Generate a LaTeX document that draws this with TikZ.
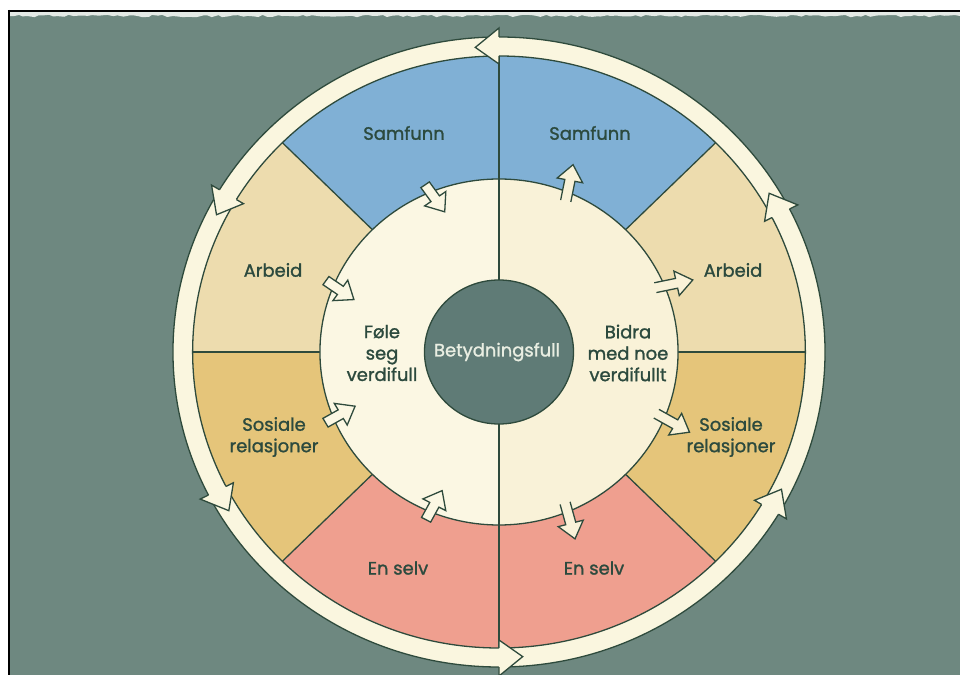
\documentclass[tikz,border=0pt]{standalone}
\usepackage{fontspec}
\setmainfont{Poppins}
\newfontfamily\lblfont{Poppins}[FakeBold=1.3]
\usepackage{tikz}
\usetikzlibrary{decorations.pathmorphing}

\definecolor{bgteal}{HTML}{6E8880}
\definecolor{tornedge}{HTML}{E4EAE6}
\definecolor{ringcream}{HTML}{FAF6DF}
\definecolor{linegreen}{HTML}{2E4A3C}
\definecolor{textgreen}{HTML}{2C4A3E}
\definecolor{samfunnblue}{HTML}{80B0D5}
\definecolor{arbeidbeige}{HTML}{EDDCAE}
\definecolor{sosialegold}{HTML}{E5C57A}
\definecolor{enselvpink}{HTML}{EF9F8F}
\definecolor{leftcream}{HTML}{FBF7E3}
\definecolor{rightcream}{HTML}{F9F2D8}
\definecolor{centerteal}{HTML}{5F7B76}
\definecolor{centertext}{HTML}{E9EEE2}

\tikzset{
  outline/.style = {draw=linegreen, line width=1.3bp},
  lbl/.style = {text=textgreen, font=\lblfont\fontsize{18}{21.5}\selectfont, align=center, inner sep=0pt},
}

\begin{document}
\begin{tikzpicture}[x=1bp, y=1bp]
 \useasboundingbox (-499,-323) rectangle (461,352);
 \fill[white] (-499,-323) rectangle (461,352);
 \fill[bgteal] (-490,-323) rectangle (461,341);
 \fill[tornedge] (-490,341) -- (461,341) -- (461,336)
   decorate[decoration={random steps, segment length=5pt, amplitude=1.2pt}] {-- (-490,336)} -- cycle;
 \draw[black, line width=2.5bp] (-491,341) -- (461,341);
 \draw[black, line width=2.5bp] (-490,342) -- (-490,-323);

 \begin{scope}[xscale=1.035]
  % outer ring
  \fill[ringcream] (0,0) circle[radius=315];
  % sectors
  \foreach \a/\col in {90/samfunnblue, 135/arbeidbeige, 180/sosialegold, 225/enselvpink,
                       45/samfunnblue, 0/arbeidbeige, -45/sosialegold, -90/enselvpink}
   \fill[\col] (0,0) -- (\a:296) arc[start angle=\a, delta angle=45, radius=296] -- cycle;
  \foreach \a in {0,45,...,315}
   \draw[outline] (\a:173) -- (\a:296);
  \draw[outline] (0,0) circle[radius=315];
  \draw[outline] (0,0) circle[radius=296];
  % inner circle
  \fill[leftcream] (90:173) arc[start angle=90, end angle=270, radius=173] -- cycle;
  \fill[rightcream] (-90:173) arc[start angle=-90, end angle=90, radius=173] -- cycle;
  \draw[outline] (0,0) circle[radius=173];
  \draw[outline] (90:296) -- (270:296);
  % arrows in (left half)
  \foreach \p/\d in {112.5/-55, 157.5/-35, 202.5/30, 247.5/62}{
   \begin{scope}[shift={(\p:173)}, rotate=\d]
    \filldraw[fill=leftcream, outline] (-9,-5) -- (8,-5) -- (8,-12.5) -- (24,0)
      -- (8,12.5) -- (8,5) -- (-9,5) -- cycle;
   \end{scope}
  }
  % arrows out (right half)
  \foreach \p/\d in {67.5/79, 22.5/12, -22.5/-30, -67.5/-75}{
   \begin{scope}[shift={(\p:173)}, rotate=\d]
    \fill[rightcream] (-9,-5) -- (12,-5) -- (12,-12.5) -- (28,0)
      -- (12,12.5) -- (12,5) -- (-9,5) -- cycle;
    \draw[outline] (-9,-5) -- (12,-5) -- (12,-12.5) -- (28,0)
      -- (12,12.5) -- (12,5) -- (-9,5);
   \end{scope}
  }
  % centre
  \filldraw[fill=centerteal, outline] (0,0) circle[radius=72];
  % ring arrows
  \foreach \b in {90,149,207,270,329,27}{
   \fill[ringcream] (\b:324) -- ({\b+4.3}:305.5) -- (\b:288) -- cycle;
   \draw[outline] (\b:315) -- (\b:324) -- ({\b+4.3}:305.5) -- (\b:288) -- (\b:296);
  }
 \end{scope}

 \node[lbl] (samfunnL) at (-95,219) {Samfunn};
 \node[lbl] (samfunnR) at (91,219) {Samfunn};
 \node[lbl] (arbeidL) at (-226,82) {Arbeid};
 \node[lbl] (arbeidR) at (234,82) {Arbeid};
 \node[lbl] (sosialeL) at (-225,-85) {Sosiale\\relasjoner};
 \node[lbl] (sosialeR) at (232,-85) {Sosiale\\relasjoner};
 \node[lbl] (enselvL) at (-101,-216) {En selv};
 \node[lbl] (enselvR) at (95,-216) {En selv};
 \node[lbl] (foele) at (-117,-1) {Føle\\seg\\verdifull};
 \node[lbl] (bidra) at (129,-1) {Bidra\\med noe\\verdifullt};
 \node[lbl, text=centertext] (kjerne) at (-2,0) {Betydningsfull};
\end{tikzpicture}
\end{document}
